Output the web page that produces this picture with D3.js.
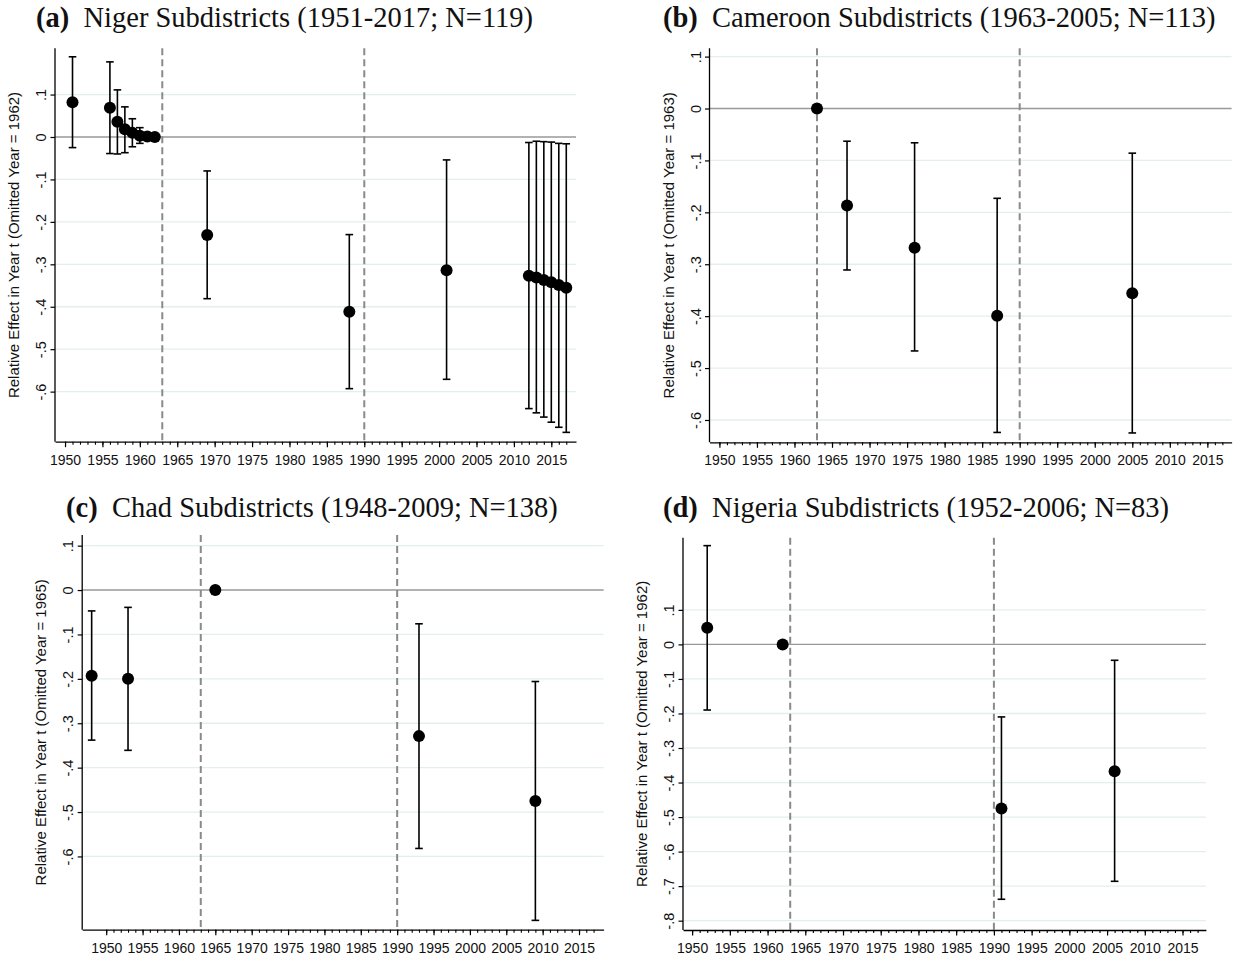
<!DOCTYPE html>
<html><head><meta charset="utf-8">
<script src="https://cdn.jsdelivr.net/npm/d3@7"></script>
<style>body{margin:0;background:#fff}</style>
</head><body><svg id="chart" width="1233" height="960"></svg>
<script>
// ---------------- data ----------------
const nigerYears = [1951,1956,1957,1958,1959,1960,1961,1962,1969,1988,2001,2012,2013,2014,2015,2016,2017];
const nigerEst   = [0.082,0.069,0.036,0.018,0.010,0.003,0.001,0,-0.231,-0.412,-0.314,-0.327,-0.331,-0.337,-0.342,-0.349,-0.355];
const nigerLo    = [-0.025,-0.039,-0.040,-0.037,-0.023,-0.015,-0.006,null,-0.381,-0.593,-0.571,-0.640,-0.650,-0.660,-0.672,-0.684,-0.696];
const nigerHi    = [0.189,0.177,0.111,0.071,0.043,0.022,0.008,null,-0.080,-0.230,-0.054,-0.013,-0.010,-0.011,-0.012,-0.015,-0.016];

const cameroonYears = [1963,1967,1976,1987,2005];
const cameroonEst   = [0,-0.187,-0.268,-0.399,-0.356];
const cameroonLo    = [null,-0.311,-0.467,-0.624,-0.625];
const cameroonHi    = [null,-0.063,-0.066,-0.173,-0.086];

const chadYears = [1948,1953,1965,1993,2009];
const chadEst   = [-0.193,-0.200,0,-0.329,-0.475];
const chadLo    = [-0.338,-0.361,null,-0.582,-0.744];
const chadHi    = [-0.047,-0.039,null,-0.076,-0.206];

const nigeriaYears = [1952,1962,1991,2006];
const nigeriaEst   = [0.048,0,-0.475,-0.367];
const nigeriaLo    = [-0.190,null,-0.738,-0.686];
const nigeriaHi    = [0.286,null,-0.210,-0.046];

const panelLetters = ["(a)","(b)","(c)","(d)"];
const panelTitles  = ["Niger Subdistricts (1951-2017; N=119)",
                      "Cameroon Subdistricts (1963-2005; N=113)",
                      "Chad Subdistricts (1948-2009; N=138)",
                      "Nigeria Subdistricts (1952-2006; N=83)"];
const yAxisTitles  = ["Relative Effect in Year t (Omitted Year = 1962)",
                      "Relative Effect in Year t (Omitted Year = 1963)",
                      "Relative Effect in Year t (Omitted Year = 1965)",
                      "Relative Effect in Year t (Omitted Year = 1962)"];
const xMajorTicks = [1950,1955,1960,1965,1970,1975,1980,1985,1990,1995,2000,2005,2010,2015];
const xMinorTicks = d3.range(1950, 2018);
const yTicksA = [0.1,0,-0.1,-0.2,-0.3,-0.4,-0.5,-0.6];
const yTicksD = [0.1,0,-0.1,-0.2,-0.3,-0.4,-0.5,-0.6,-0.7,-0.8];
const eventLines = [1963, 1990];

// ---------------- layout ----------------
const panels = [
  {years:nigerYears, est:nigerEst, lo:nigerLo, hi:nigerHi, yticks:yTicksA,
   left:55, right:576, top:48.3, bottom:441.7, xd:[1948.66,2018.3], yd:[-0.718,0.209],
   titleX:36, titleY:27},
  {years:cameroonYears, est:cameroonEst, lo:cameroonLo, hi:cameroonHi, yticks:yTicksA,
   left:709.5, right:1231.6, top:48.3, bottom:442.3, xd:[1948.68,2018.23], yd:[-0.643,0.116],
   titleX:663, titleY:27},
  {years:chadYears, est:chadEst, lo:chadLo, hi:chadHi, yticks:yTicksA,
   left:82.2, right:603.6, top:535, bottom:929.7, xd:[1946.7,2018.38], yd:[-0.765,0.124],
   titleX:66, titleY:517},
  {years:nigeriaYears, est:nigeriaEst, lo:nigeriaLo, hi:nigeriaHi, yticks:yTicksD,
   left:683, right:1205.9, top:537.7, bottom:930, xd:[1948.79,2018.1], yd:[-0.827,0.309],
   titleX:663, titleY:517}
];

const fmtY = v => {
  const r = Math.round(v*10)/10;
  if (r === 0) return "0";
  return (r < 0 ? "-" : "") + String(Math.abs(r)).replace(/^0/, "");
};

const svg = d3.select("#chart");
const sans = "'Liberation Sans', Arial, sans-serif";
const serif = "'Liberation Serif', 'Times New Roman', serif";

panels.forEach((p, i) => {
  const x = d3.scaleLinear().domain(p.xd).range([p.left, p.right]);
  const y = d3.scaleLinear().domain(p.yd).range([p.bottom, p.top]);
  const g = svg.append("g");

  // title
  const t = g.append("text").attr("x", p.titleX).attr("y", p.titleY)
    .attr("font-family", serif).attr("font-size", 28.5).attr("fill", "#111");
  t.append("tspan").attr("font-weight", "bold").text(panelLetters[i]);
  t.append("tspan").attr("dx", 14.25).text(panelTitles[i]);

  // grid lines
  g.append("g").selectAll("line").data(p.yticks.filter(v => Math.abs(v) > 1e-9)).join("line")
    .attr("x1", p.left).attr("x2", p.right)
    .attr("y1", d => y(d)).attr("y2", d => y(d))
    .attr("stroke", "#e4eeef").attr("stroke-width", 1.3);

  // zero line
  g.append("line").attr("x1", p.left).attr("x2", p.right)
    .attr("y1", y(0)).attr("y2", y(0))
    .attr("stroke", "#999").attr("stroke-width", 1.4);

  // event lines
  g.append("g").selectAll("line").data(eventLines).join("line")
    .attr("x1", d => x(d)).attr("x2", d => x(d))
    .attr("y1", p.top).attr("y2", p.bottom)
    .attr("stroke", "#8a8a8a").attr("stroke-width", 2)
    .attr("stroke-dasharray", "7,4");

  // x axis
  const xMinor = d3.axisBottom(x).tickValues(xMinorTicks).tickSize(3).tickSizeOuter(0).tickFormat("");
  g.append("g").attr("transform", `translate(0,${p.bottom})`).call(xMinor)
    .call(s => s.select(".domain").remove())
    .selectAll("line").attr("stroke", "#000").attr("stroke-width", 1.1);
  const xMajor = d3.axisBottom(x).tickValues(xMajorTicks).tickSize(5.5).tickSizeOuter(0).tickFormat(d3.format("d"));
  const xa = g.append("g").attr("transform", `translate(0,${p.bottom})`).call(xMajor);
  xa.select(".domain").attr("stroke", "#000").attr("stroke-width", 1.3);
  xa.selectAll("line").attr("stroke", "#000").attr("stroke-width", 1.2);
  xa.selectAll("text").attr("y", 23).attr("dy", null)
    .attr("font-family", sans).attr("font-size", 14).attr("fill", "#111");

  // y axis
  const ya = g.append("g").attr("transform", `translate(${p.left},0)`)
    .call(d3.axisLeft(y).tickValues(p.yticks).tickSize(4.5).tickSizeOuter(0).tickFormat(fmtY));
  ya.select(".domain").attr("stroke", "#000").attr("stroke-width", 1.3)
    .attr("d", `M0,${p.top}V${p.bottom}`);
  ya.selectAll("line").attr("stroke", "#000").attr("stroke-width", 1.2);
  ya.selectAll("text").attr("x", null).attr("dy", null)
    .attr("text-anchor", "middle").attr("transform", "translate(-9,0) rotate(-90)")
    .attr("font-family", sans).attr("font-size", 14.5).attr("fill", "#111");

  // y axis title
  g.append("text")
    .attr("transform", `translate(${p.left - 36},${(p.top + p.bottom) / 2}) rotate(-90)`)
    .attr("text-anchor", "middle").attr("font-family", sans).attr("font-size", 15).attr("fill", "#111")
    .text(yAxisTitles[i]);

  // error bars and points
  const rows = p.years.map((yr, k) => ({yr, est:p.est[k], lo:p.lo[k], hi:p.hi[k]}));
  const ci = rows.filter(r => r.lo !== null && r.hi !== null);
  const eb = g.append("g").attr("stroke", "#000").attr("stroke-width", 1.6);
  eb.selectAll(".v").data(ci).join("line").attr("class", "v")
    .attr("x1", d => x(d.yr)).attr("x2", d => x(d.yr))
    .attr("y1", d => y(d.lo)).attr("y2", d => y(d.hi));
  eb.selectAll(".ct").data(ci).join("line").attr("class", "ct")
    .attr("x1", d => x(d.yr) - 3.8).attr("x2", d => x(d.yr) + 3.8)
    .attr("y1", d => y(d.hi)).attr("y2", d => y(d.hi));
  eb.selectAll(".cb").data(ci).join("line").attr("class", "cb")
    .attr("x1", d => x(d.yr) - 3.8).attr("x2", d => x(d.yr) + 3.8)
    .attr("y1", d => y(d.lo)).attr("y2", d => y(d.lo));

  g.append("g").selectAll("circle").data(rows).join("circle")
    .attr("cx", d => x(d.yr)).attr("cy", d => y(d.est)).attr("r", 6).attr("fill", "#000");
});
</script>
</body></html>
